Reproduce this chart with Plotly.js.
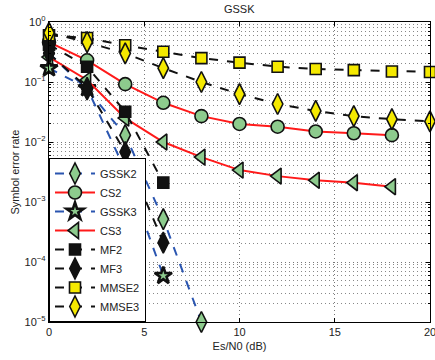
<!DOCTYPE html>
<html><head><meta charset="utf-8">
<script src="https://cdn.plot.ly/plotly-3.0.1.min.js"></script>
<style>body{margin:0;padding:0;background:#fff}#chart{width:435px;height:360px}</style>
</head><body><div id="chart"></div>
<script>
const snrA = [0,2,4,6,8];
const snrB = [0,2,4,6];
const snrC = [0,2,4,6,8,10,12,14,16,18];
const snrD = [0,2,4,6,8,10,12,14,16,18,20];
const gssk2 = [0.3,0.075,0.013,5.2e-4,1e-5];
const cs2 = [0.46,0.23,0.092,0.045,0.027,0.020,0.018,0.015,0.014,0.013];
const gssk3 = [0.17,0.079,3.4e-3,5.9e-5];
const cs3 = [0.26,0.108,0.025,0.010,5.6e-3,3.4e-3,2.7e-3,2.3e-3,2.1e-3,1.8e-3];
const mf2 = [0.42,0.18,0.032,2.1e-3];
const mf3 = [0.3,0.08,6.8e-3,2.1e-4];
const mmse2 = [0.6,0.54,0.41,0.32,0.25,0.21,0.18,0.165,0.158,0.15,0.147];
const mmse3 = [0.66,0.46,0.30,0.17,0.1,0.063,0.043,0.033,0.027,0.024,0.022];
const xTickVals = [0,5,10,15,20];
const yTickVals = [1e-5,1e-4,1e-3,1e-2,1e-1,1];
const yTickText = ['10<sup>−5</sup>','10<sup>−4</sup>','10<sup>−3</sup>','10<sup>−2</sup>','10<sup>−1</sup>','10<sup>0</sup>'];

const GREEN = '#8dcb8d', YELLOW = '#f5e900', RED = '#ff1a1a', BLUE = '#2a55b0', BLACK = '#111';
function tr(name, x, y, lineColor, dash, symbol, fill, size, lw) {
  return {x, y, name, type:'scatter', mode:'lines+markers', cliponaxis:false,
    line:{color:lineColor, width:2, dash},
    marker:{symbol, size, color:fill, line:{color:BLACK, width:lw || 1.6}}};
}
const data = [
  tr('GSSK2', snrA, gssk2, BLUE, 'dash', 'diamond-tall', GREEN, 15),
  tr('CS2', snrC, cs2, RED, 'solid', 'circle', GREEN, 13),
  tr('GSSK3', snrB, gssk3, BLUE, 'dash', 'star', GREEN, 13, 2.6),
  tr('CS3', snrC, cs3, RED, 'solid', 'triangle-left', GREEN, 14),
  tr('MF2', snrB, mf2, BLACK, 'dash', 'square', BLACK, 11),
  tr('MF3', snrB, mf3, BLACK, 'dash', 'diamond-tall', BLACK, 15),
  tr('MMSE2', snrD, mmse2, BLACK, 'dash', 'square', YELLOW, 11),
  tr('MMSE3', snrD, mmse3, BLACK, 'dash', 'diamond-tall', YELLOW, 15)
];
const layout = {
  width:435, height:360,
  margin:{l:49, r:5, t:22, b:38},
  paper_bgcolor:'#fff', plot_bgcolor:'#fff',
  font:{family:'Liberation Sans, Arial, sans-serif', size:11, color:'#222'},
  title:{text:'GSSK', x:0.55, xanchor:'center', y:0.985, yanchor:'top', font:{size:11, color:'#222'}},
  showlegend:true,
  legend:{x:0, y:0, xanchor:'left', yanchor:'bottom', bgcolor:'#fff', bordercolor:'#000', borderwidth:1,
    font:{size:11, color:'#222'}, tracegroupgap:0, itemwidth:40},
  xaxis:{range:[0,20], tickvals:xTickVals, showline:true, linecolor:'#000', linewidth:1.2, mirror:'ticks',
    ticks:'inside', ticklen:4, tickcolor:'#000', showgrid:true, gridcolor:'#777', griddash:'1px,3px', gridwidth:1,
    ticklabeloverflow:'allow', zeroline:false, title:{text:'Es/N0 (dB)', standoff:4, font:{size:11}}},
  yaxis:{type:'log', range:[-5,0], tickvals:yTickVals, ticktext:yTickText, showline:true, linecolor:'#000', linewidth:1.2,
    mirror:'ticks', ticks:'inside', ticklen:4, tickcolor:'#000', showgrid:true, gridcolor:'#777', griddash:'1px,3px', gridwidth:1,
    zeroline:false, title:{text:'Symbol error rate', standoff:2, font:{size:11}},
    minor:{dtick:'D1', showgrid:true, gridcolor:'#888', griddash:'1px,3px', gridwidth:1, ticks:'inside', ticklen:2, tickcolor:'#000'}}
};
Plotly.newPlot('chart', data, layout, {displayModeBar:false, staticPlot:true});
</script></body></html>
